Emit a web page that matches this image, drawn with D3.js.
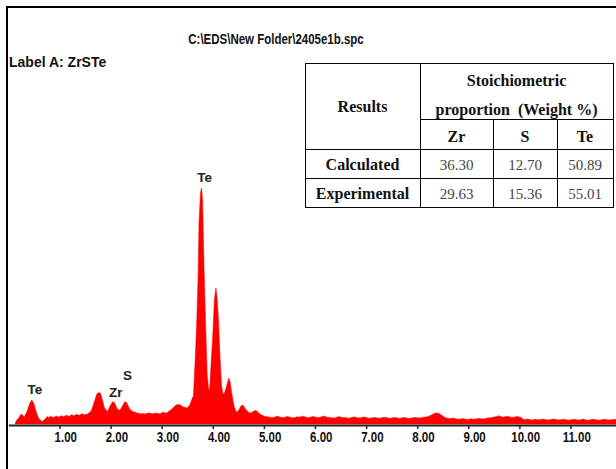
<!DOCTYPE html>
<html><head><meta charset="utf-8">
<script src="https://cdn.jsdelivr.net/npm/d3@7"></script>
<style>body{margin:0;background:#fff;} svg{display:block;}</style>
</head><body><svg id="c" width="616" height="469"></svg>
<script>
// ---- data ----
const chartTitle = "C:\\EDS\\New Folder\\2405e1b.spc";
const sampleLabel = "Label A: ZrSTe";
const tickValues = [1, 2, 3, 4, 5, 6, 7, 8, 9, 10, 11];
// [energy keV, counts]
const spectrum = [
  [0.13,0],[0.15,13],[0.20,25],[0.25,42],[0.28,38],[0.31,30],[0.36,51],[0.42,89],[0.46,102],[0.50,85],
  [0.55,47],[0.60,21],[0.66,11],[0.72,21],[0.76,32],[0.78,28],[0.80,29],[0.83,33],[0.85,31],[0.88,28],
  [0.90,30],[0.93,34],[0.95,33],[0.98,30],[1.00,31],[1.03,35],[1.05,34],[1.08,31],[1.10,33],[1.13,37],
  [1.15,36],[1.18,33],[1.20,34],[1.23,39],[1.25,38],[1.28,35],[1.30,37],[1.33,41],[1.35,40],[1.38,37],
  [1.40,38],[1.43,43],[1.45,42],[1.48,39],[1.50,40],[1.55,42],
  [1.62,55],[1.68,93],[1.73,127],[1.77,133],[1.80,131],[1.84,102],[1.88,68],[1.94,53],[1.99,76],
  [2.04,95],[2.08,89],[2.13,64],[2.18,57],[2.23,76],[2.28,95],[2.32,89],[2.37,64],[2.43,53],
  [2.50,49],[2.53,45],[2.55,47],[2.58,43],[2.62,45],[2.66,42],[2.70,44],[2.74,47],[2.78,46],[2.82,43],
  [2.85,44],[2.89,47],[2.92,45],[2.96,43],[3.00,47],[3.03,50],[3.06,48],[3.09,46],[3.12,51],[3.20,64],
  [3.28,81],[3.35,83],[3.42,72],[3.50,68],[3.55,81],[3.60,110],[3.62,119],[3.65,250],[3.68,398],[3.71,610],
  [3.73,856],[3.76,983],[3.78,1000],[3.80,949],[3.83,653],[3.86,419],[3.89,208],[3.92,144],[3.94,153],[3.97,271],
  [4.00,377],[4.03,525],[4.06,576],[4.08,547],[4.11,449],[4.14,292],[4.17,165],[4.20,127],[4.23,131],[4.27,161],
  [4.31,195],[4.34,178],[4.38,119],[4.42,72],[4.46,51],[4.50,55],[4.55,76],[4.59,81],[4.64,64],[4.70,49],
  [4.75,47],[4.80,55],[4.85,57],[4.92,42],
  [5.00,34],[5.05,31],[5.10,30],[5.15,27],[5.20,29],[5.25,33],[5.30,31],[5.35,28],[5.40,28],[5.45,32],
  [5.50,30],[5.55,26],[5.60,27],[5.65,31],[5.70,29],[5.75,33],[5.80,31],[5.85,27],[5.90,28],[5.95,32],
  [6.00,30],[6.05,27],[6.10,29],[6.15,33],[6.20,32],[6.25,28],[6.30,28],[6.35,25],[6.40,27],[6.45,31],
  [6.50,30],[6.55,27],[6.60,28],[6.65,24],[6.70,26],[6.75,30],[6.80,29],[6.85,25],[6.90,27],[6.95,30],
  [7.00,28],[7.05,24],[7.10,25],[7.15,28],[7.20,27],[7.25,24],[7.30,26],[7.35,29],[7.40,28],[7.45,24],
  [7.50,25],[7.55,28],[7.60,27],[7.65,23],[7.70,26],[7.75,28],[7.80,25],[7.85,23],[7.90,26],[7.95,28],
  [8.00,27],[8.05,25],[8.10,28],[8.20,31],[8.27,37],[8.33,44],[8.38,47],[8.43,45],[8.48,37],
  [8.55,27],[8.60,24],[8.65,23],[8.70,25],[8.75,22],[8.80,20],[8.85,21],[8.90,23],[8.95,20],[9.00,19],
  [9.05,22],[9.10,20],[9.15,21],[9.20,24],[9.25,22],[9.30,21],[9.35,24],[9.40,26],[9.45,27],[9.50,30],
  [9.55,31],[9.58,35],[9.62,33],[9.66,30],[9.70,30],[9.75,33],[9.80,31],[9.85,28],[9.90,29],[9.95,32],
  [10.00,30],[10.04,27],[10.08,20],
  [10.10,18],[10.15,21],[10.20,19],[10.25,17],[10.30,20],[10.35,18],[10.40,18],[10.45,21],[10.50,19],[10.55,17],
  [10.60,18],[10.65,21],[10.70,20],[10.75,17],[10.80,18],[10.85,20],[10.90,19],[10.95,16],[11.00,17],[11.05,20],
  [11.10,19],[11.15,17],[11.20,18],[11.25,21],[11.30,17],[11.35,16],[11.40,19],[11.45,20],[11.50,18],[11.55,16],
  [11.60,17],[11.65,20],[11.70,19],[11.75,17],[11.80,18],[11.85,20],[11.90,18]
];
const peakLabelText = ["Te", "Zr", "S", "Te"];
const peakLabelEnergy = [0.52, 2.10, 2.33, 3.84];
const peakLabelLevel = [127, 114, 186, 1025];
const tableHeader = "Results";
const tableGroupHeader = ["Stoichiometric", "proportion  (Weight %)"];
const tableColumns = ["Zr", "S", "Te"];
const tableRows = ["Calculated", "Experimental"];
const calculated = [36.30, 12.70, 50.89];
const experimental = [29.63, 15.36, 55.01];

// ---- drawing ----
const svg = d3.select("#c");
const x = d3.scaleLinear().domain([0, 11.9]).range([8.4, 616.5]);
const y = d3.scaleLinear().domain([0, 1000]).range([424, 188]);

// frame
svg.append("line").attr("x1", 7).attr("x2", 7).attr("y1", 6).attr("y2", 469).attr("stroke", "#000").attr("stroke-width", 2);
svg.append("line").attr("x1", 6).attr("x2", 616).attr("y1", 7).attr("y2", 7).attr("stroke", "#000").attr("stroke-width", 2);

const sans = "'Liberation Sans',Arial,sans-serif";
svg.append("text").attr("transform", "translate(276,44) scale(0.82,1)").attr("text-anchor", "middle")
  .attr("font-family", sans).attr("font-size", 14).attr("font-weight", "bold").attr("fill", "#111").text(chartTitle);
svg.append("text").attr("x", 9).attr("y", 67)
  .attr("font-family", sans).attr("font-size", 14).attr("font-weight", "bold").attr("fill", "#111").text(sampleLabel);

// spectrum
const area = d3.area().x(d => x(d[0])).y0(y(0)).y1(d => y(d[1])).curve(d3.curveLinear);
svg.append("path").datum(spectrum).attr("d", area).attr("fill", "#ff0000").attr("stroke", "#ff0000").attr("stroke-width", 0.5);

// axis
const ax = svg.append("g").attr("transform", "translate(0,425)")
  .call(d3.axisBottom(x).tickValues(tickValues).tickFormat(d3.format(".2f")).tickSize(4).tickSizeOuter(0));
ax.select(".domain").attr("stroke", "#222").attr("stroke-width", 2);
ax.selectAll(".tick line").attr("stroke", "#222").attr("stroke-width", 1.5);
ax.selectAll(".tick text").attr("transform", "scale(0.82,1)").attr("dx", 7).attr("fill", "#111")
  .attr("font-family", sans).attr("font-size", 14).attr("font-weight", "bold");

// peak labels
svg.append("g").selectAll("text").data(peakLabelText).join("text")
  .attr("x", (d, i) => x(peakLabelEnergy[i])).attr("y", (d, i) => y(peakLabelLevel[i]))
  .attr("text-anchor", "middle").attr("font-family", sans)
  .attr("font-size", 13.5).attr("font-weight", "bold").attr("fill", "#222").text(d => d);

// table
const colX = [305, 420, 493, 557, 613];
const rowY = [63, 119, 149, 178, 207];
const t = svg.append("g");
t.append("rect").attr("x", colX[0] + 0.5).attr("y", rowY[0] + 0.5).attr("width", colX[4] - colX[0]).attr("height", rowY[4] - rowY[0])
  .attr("fill", "#fff").attr("stroke", "#000").attr("stroke-width", 1);
const tl = (x1, y1, x2, y2) => t.append("line").attr("x1", x1 + 0.5).attr("y1", y1 + 0.5).attr("x2", x2 + 0.5).attr("y2", y2 + 0.5).attr("stroke", "#000").attr("stroke-width", 1);
tl(colX[1], rowY[0], colX[1], rowY[4]);
tl(colX[2], rowY[1], colX[2], rowY[4]);
tl(colX[3], rowY[1], colX[3], rowY[4]);
tl(colX[1], rowY[1], colX[4], rowY[1]);
tl(colX[0], rowY[2], colX[4], rowY[2]);
tl(colX[0], rowY[3], colX[4], rowY[3]);
const serif = "'Liberation Serif','Times New Roman',serif";
const txt = (s, cx, by, bold, size, fill) => t.append("text").attr("x", cx).attr("y", by).attr("text-anchor", "middle")
  .attr("font-family", serif).attr("font-size", size).attr("font-weight", bold ? "bold" : "normal").attr("fill", fill).text(s);
txt(tableHeader, (colX[0] + colX[1]) / 2, 112, true, 16, "#111");
txt(tableGroupHeader[0], (colX[1] + colX[4]) / 2, 86, true, 16, "#111");
txt(tableGroupHeader[1], (colX[1] + colX[4]) / 2, 115, true, 16, "#111").attr("xml:space", "preserve");
tableColumns.forEach((c, i) => txt(c, (colX[i + 1] + colX[i + 2]) / 2, 142, true, 16, "#111"));
const rowVals = [calculated, experimental];
tableRows.forEach((r, j) => {
  const by = [170, 199][j];
  txt(r, (colX[0] + colX[1]) / 2, by, true, 16, "#111");
  rowVals[j].forEach((v, i) => txt(d3.format(".2f")(v), (colX[i + 1] + colX[i + 2]) / 2, by, false, 15, "#444"));
});
</script></body></html>
